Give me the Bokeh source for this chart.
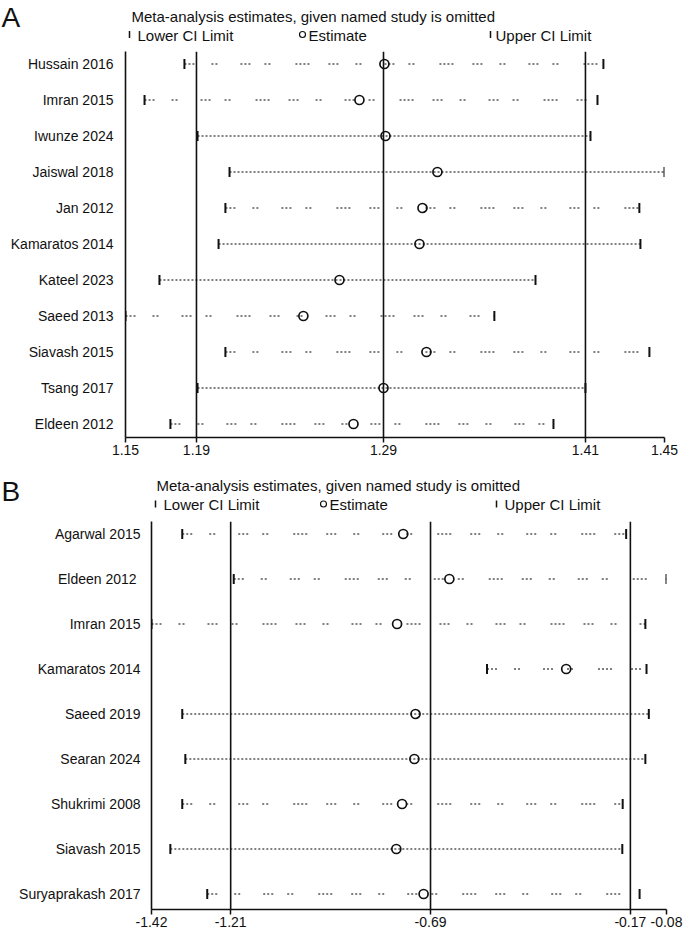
from math import pi

from bokeh.plotting import figure
from bokeh.models import Range1d, FixedTicker, Span, ColumnDataSource
from bokeh.core.properties import value
from bokeh.embed import file_html
from bokeh.resources import INLINE

# ---- Panel A: pooled estimate with each named study omitted ----
studies_a = ["Hussain 2016", "Imran 2015", "Iwunze 2024", "Jaiswal 2018", "Jan 2012",
             "Kamaratos 2014", "Kateel 2023", "Saeed 2013", "Siavash 2015", "Tsang 2017",
             "Eldeen 2012"]
lower_a = [1.1828, 1.1606, 1.1901, 1.2079, 1.2056, 1.2018, 1.1689, 1.1500, 1.2056, 1.1901, 1.1750]
est_a = [1.2941, 1.2802, 1.2947, 1.3236, 1.3153, 1.3136, 1.2691, 1.2490, 1.3175, 1.2936, 1.2769]
upper_a = [1.4160, 1.4127, 1.4088, 1.4500, 1.4360, 1.4366, 1.3782, 1.3553, 1.4416, 1.4060, 1.3882]
overall_a = [1.1895, 1.2936, 1.4060]   # full-data lower CI, estimate, upper CI

# ---- Panel B ----
studies_b = ["Agarwal 2015", "Eldeen  2012", "Imran 2015", "Kamaratos 2014", "Saeed 2019",
             "Searan 2024", "Shukrimi 2008", "Siavash 2015", "Suryaprakash 2017"]
lower_b = [-1.340, -1.206, -1.420, -0.547, -1.340, -1.332, -1.340, -1.371, -1.275]
est_b = [-0.765, -0.645, -0.781, -0.341, -0.733, -0.736, -0.768, -0.783, -0.712]
upper_b = [-0.185, -0.080, -0.135, -0.132, -0.126, -0.135, -0.194, -0.195, -0.150]
overall_b = [-1.214, -0.694, -0.174]

title_text = "Meta-analysis estimates, given named study is omitted"
legend_texts = ["Lower CI Limit", "Estimate", "Upper CI Limit"]

# rows whose CI is drawn as a continuous dotted rule; the others use sparse dot clusters
dense_a = {"Iwunze 2024", "Jaiswal 2018", "Kamaratos 2014", "Kateel 2023", "Tsang 2017"}
dense_b = {"Saeed 2019", "Searan 2024", "Siavash 2015"}

FONT = "Liberation Sans"
INK = "#111111"
DENSE_DASH = "2 2"
SPARSE_DASH = "2 2 2 2 2 17 2 2 2 23 2 2 2 2 2 14 2 2 2 25 2 2 2 2 2 2 2 19"
PAGE_W = 686


def make_header(letter, height, letter_y, title_x, title_y, row_y, mark_y,
                lower_bar, lower_x, circle_x, est_x, upper_bar, upper_x):
    """Panel letter, caption and key, drawn on a strip in pixel coordinates."""
    h = figure(frame_width=PAGE_W, frame_height=height, min_border=0,
               x_range=Range1d(0, PAGE_W), y_range=Range1d(height, 0),
               x_axis_location=None, y_axis_location=None,
               output_backend="svg", toolbar_location=None)
    h.grid.visible = False
    h.outline_line_color = None

    h.text(x=[1], y=[letter_y], text=[letter], text_font=value(FONT),
           text_font_size=value("28px"), text_color=INK,
           text_baseline="middle", text_align="left")
    h.text(x=[title_x, lower_x, est_x, upper_x],
           y=[title_y, row_y, row_y, row_y],
           text=[title_text] + legend_texts, text_font=value(FONT),
           text_font_size=value("15px"), text_color=INK,
           text_baseline="middle", text_align="left")
    h.scatter([lower_bar, upper_bar], [mark_y, mark_y], marker="dash", angle=pi / 2,
              size=7, line_color=INK, line_width=1.5)
    h.scatter([circle_x], [mark_y], marker="circle", size=6, fill_alpha=0,
              line_color=INK, line_width=1.2)
    return h


def make_panel(studies, lower, est, upper, overall, dense,
               frame_left, frame_w, border_right, frame_h, border_bottom,
               row_px, first_row_off, label_standoff):
    rows = list(range(1, len(studies) + 1))
    x_lo, x_hi = min(lower), max(upper)
    y_top = 1 - first_row_off / row_px
    y_bottom = y_top + frame_h / row_px

    p = figure(frame_width=frame_w, frame_height=frame_h,
               min_border_left=frame_left, min_border_right=border_right,
               min_border_top=0, min_border_bottom=border_bottom,
               x_range=Range1d(x_lo, x_hi), y_range=Range1d(y_bottom, y_top),
               output_backend="svg", toolbar_location=None)
    p.outline_line_color = None
    p.grid.visible = False

    # reference lines at the full-data estimate and its CI limits
    for v in overall:
        p.add_layout(Span(location=v, dimension="height", line_color=INK, line_width=1.6))

    # CI rules for every omitted-study estimate
    for is_dense, dash in ((True, DENSE_DASH), (False, SPARSE_DASH)):
        idx = [i for i, s in enumerate(studies) if (s in dense) == is_dense]
        src = ColumnDataSource(dict(x0=[lower[i] for i in idx], x1=[upper[i] for i in idx],
                                    y=[rows[i] for i in idx]))
        p.segment(x0="x0", x1="x1", y0="y", y1="y", source=src,
                  line_color="#000000", line_width=1.2, line_dash=dash)

    # CI limit ticks
    p.scatter(lower + upper, rows + rows, marker="dash", angle=pi / 2, size=10,
              line_color=INK, line_width=2)
    # estimates
    p.scatter(est, rows, marker="circle", size=9, fill_alpha=0,
              line_color=INK, line_width=1.7)

    # x axis: range ends plus the full-data CI and estimate
    xt = [x_lo] + overall + [x_hi]
    xa = p.xaxis[0]
    xa.ticker = FixedTicker(ticks=xt)
    xa.major_label_overrides = {v: f"{v:.2f}" for v in xt}
    xa.minor_tick_line_color = None
    xa.major_tick_in = 0
    xa.major_tick_out = 5
    xa.major_tick_line_width = 1.5
    xa.axis_line_width = 1.6
    xa.axis_line_color = INK
    xa.major_tick_line_color = INK
    xa.major_label_standoff = 2
    xa.major_label_text_font = FONT
    xa.major_label_text_font_size = "14px"
    xa.major_label_text_color = INK

    ya = p.yaxis[0]
    ya.ticker = FixedTicker(ticks=rows)
    ya.major_label_overrides = {r: s for r, s in zip(rows, studies)}
    ya.minor_tick_line_color = None
    ya.major_tick_line_color = None
    ya.major_tick_in = 0
    ya.major_tick_out = 0
    ya.axis_line_width = 1.6
    ya.axis_line_color = INK
    ya.major_label_standoff = label_standoff
    ya.major_label_text_font = FONT
    ya.major_label_text_font_size = "14px"
    ya.major_label_text_color = INK
    return p


ha = make_header("A", height=51, letter_y=17, title_x=131, title_y=15.5,
                 row_y=34.5, mark_y=34, lower_bar=129, lower_x=137,
                 circle_x=302, est_x=308, upper_bar=490, upper_x=495)
pa = make_panel(studies_a, lower_a, est_a, upper_a, overall_a, dense_a,
                frame_left=125, frame_w=539, border_right=22,
                frame_h=386, border_bottom=25,
                row_px=36, first_row_off=12.5, label_standoff=12)

hb = make_header("B", height=59, letter_y=29, title_x=156, title_y=22.5,
                 row_y=41.5, mark_y=41.5, lower_bar=155, lower_x=163,
                 circle_x=323, est_x=329, upper_bar=496, upper_x=504)
pb = make_panel(studies_b, lower_b, est_b, upper_b, overall_b, dense_b,
                frame_left=151, frame_w=515, border_right=20,
                frame_h=388, border_bottom=21,
                row_px=45, first_row_off=12.5, label_standoff=11)

with open("out.html", "w") as f:
    f.write(file_html([ha, pa, hb, pb], INLINE))
